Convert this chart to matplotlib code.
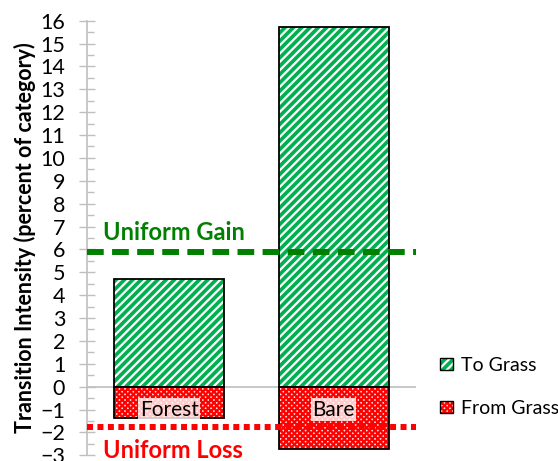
import matplotlib
matplotlib.use("Agg")
import matplotlib.pyplot as plt
from matplotlib.patches import Patch
from matplotlib.legend_handler import HandlerTuple
from matplotlib.ticker import MultipleLocator

plt.rcParams['font.family'] = ['Lato', 'DejaVu Sans']
plt.rcParams['hatch.linewidth'] = 1.6

categories = ["Forest", "Bare"]
to_grass = [4.7, 15.74]
from_grass = [-1.38, -2.74]
uniform_gain = 5.9
uniform_loss = -1.75
yticks = list(range(-3, 17))

GREEN = "#00B050"
RED = "#FF0000"
PINK = "#FFE0E0"

fig = plt.figure(figsize=(5.58, 4.61), dpi=100)
ax = fig.add_axes([0.156, 0.0124, 0.5895, 0.9427])

x = list(range(len(categories)))
w = 0.67
ax.bar(x, to_grass, width=w, color=GREEN, edgecolor="white", hatch="////", linewidth=0, zorder=2)
ax.bar(x, to_grass, width=w, fill=False, edgecolor="black", linewidth=1.3, zorder=3)
ax.bar(x, from_grass, width=w, color=PINK, edgecolor=RED, hatch="xxxxxx", linewidth=0, zorder=2)
ax.bar(x, from_grass, width=w, fill=False, edgecolor="black", linewidth=1.3, zorder=3)

ax.axhline(0, color="#BFBFBF", linewidth=1.2, zorder=1)
ax.axhline(uniform_gain, color="#008000", linewidth=4.3, linestyle=(0, (2.8, 1.4)), zorder=4)
ax.axhline(uniform_loss, color=RED, linewidth=4.3, linestyle=(0, (1.0, 0.75)), zorder=4)

ax.text(-0.40, uniform_gain + 0.85, "Uniform Gain", color="#008000", fontsize=17,
        fontweight="bold", va="center", ha="left")
ax.text(-0.40, uniform_loss - 1.05, "Uniform Loss", color=RED, fontsize=17,
        fontweight="bold", va="center", ha="left", clip_on=False)

for xi, c in zip(x, categories):
    ax.text(xi, -1.0, c, fontsize=15, ha="center", va="center", zorder=5,
            bbox=dict(facecolor="white", alpha=0.8, edgecolor="none", pad=1))

ax.set_xlim(-0.5, 1.5)
ax.set_ylim(-3, 16)
ax.set_yticks(yticks)
ax.yaxis.set_minor_locator(MultipleLocator(0.5))
ax.set_xticks([])
for s in ["top", "right", "bottom"]:
    ax.spines[s].set_visible(False)
ax.spines["left"].set_color("#BFBFBF")
ax.spines["left"].set_linewidth(1.2)
ax.tick_params(axis="y", which="major", direction="inout", length=11.5, width=1,
               color="#BFBFBF", labelsize=15.5, pad=10)
ax.tick_params(axis="y", which="minor", direction="in", length=5, width=1, color="#BFBFBF")
ax.set_ylabel("Transition Intensity (percent of category)", fontsize=15.5,
              fontweight="bold", labelpad=3)

h1 = (Patch(facecolor=GREEN, edgecolor="white", hatch="////", linewidth=0),
      Patch(fill=False, edgecolor="black", linewidth=1))
h2 = (Patch(facecolor=PINK, edgecolor=RED, hatch="xxxxxx", linewidth=0),
      Patch(fill=False, edgecolor="black", linewidth=1))
fig.legend([h1, h2], ["To Grass", "From Grass"],
           handler_map={tuple: HandlerTuple(ndivide=1, pad=0)},
           loc="center left", bbox_to_anchor=(0.772, 0.161), frameon=False,
           fontsize=14, handlelength=0.62, handleheight=0.62, handletextpad=0.45,
           labelspacing=1.35, borderpad=0)

fig.savefig("out.png", dpi=100)
